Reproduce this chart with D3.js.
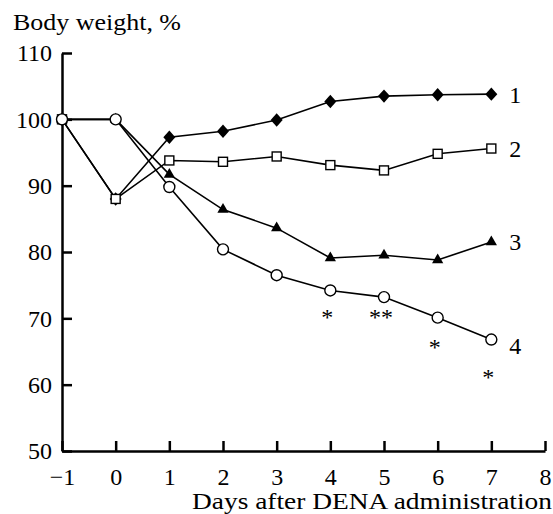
<!DOCTYPE html>
<html>
<head>
<meta charset="UTF-8" />
<title>body weight</title>
<script src="https://d3js.org/d3.v7.min.js"></script>
<style type="text/css">
	body {margin: 0; background: #fff;}
	text {font-family: "Liberation Serif", "Times New Roman", serif; fill: #000;}
	.axis path, .axis line {stroke: #000; stroke-width: 2.5px;}
	.axis text {font-size: 24px;}
	.line {fill: none; stroke: #000; stroke-width: 1.6px;}
</style>
</head>
<body>
<svg id="chart"></svg>
<script type="text/javascript">
// data
var days = [-1, 0, 1, 2, 3, 4, 5, 6, 7]
var series1 = [100, 88, 97.3, 98.2, 99.9, 102.7, 103.5, 103.7, 103.8]
var series2 = [100, 88, 93.8, 93.6, 94.4, 93.1, 92.3, 94.8, 95.6]
var series3 = [100, 100, 91.7, 86.4, 83.6, 79.1, 79.5, 78.8, 81.5]
var series4 = [100, 100, 89.8, 80.4, 76.5, 74.2, 73.2, 70.1, 66.8]
var seriesNames = ["1", "2", "3", "4"]
var xTicks = [-1, 0, 1, 2, 3, 4, 5, 6, 7, 8]
var yTicks = [50, 60, 70, 80, 90, 100, 110]
// significance marks under series 4
var starDays = [4, 5, 6, 7]
var starMarks = ["*", "**", "*", "*"]
var starValues = [70.5, 70.5, 66, 61.5]

var w = 553, h = 514

var svg = d3.select("#chart").attr("width", w).attr("height", h)

var x = d3.scaleLinear().domain([-1, 8]).range([62, 545])
var y = d3.scaleLinear().domain([50, 110]).range([451, 53])

// axes, ticks point inwards
svg.append("g")
	.attr("class", "axis")
	.attr("transform", "translate(0,451)")
	.call(d3.axisBottom(x).tickValues(xTicks).tickSize(-10).tickSizeOuter(0).tickPadding(17))
svg.append("g")
	.attr("class", "axis")
	.attr("transform", "translate(62,0)")
	.call(d3.axisLeft(y).tickValues(yTicks).tickSize(-10).tickSizeOuter(0).tickPadding(10))

var line = d3.line().x(d => x(d[0])).y(d => y(d[1]))
var pts = vals => days.map((d, i) => [d, vals[i]])

var all = [series1, series2, series3, series4]
all.forEach(vals => {
	svg.append("path").attr("class", "line").attr("d", line(pts(vals)))
})

// markers: draw order 1, 3, 2, 4 so open ones sit on top
var diamond = d3.symbol().type(d3.symbolSquare).size(72)
var triangle = d3.symbol().type(d3.symbolTriangle).size(55)

svg.append("g").selectAll("path").data(pts(series1)).enter().append("path")
	.attr("d", diamond)
	.attr("transform", d => "translate(" + x(d[0]) + "," + y(d[1]) + ") scale(1,1.12) rotate(45)")
	.attr("fill", "#000")

svg.append("g").selectAll("path").data(pts(series3)).enter().append("path")
	.attr("d", triangle)
	.attr("transform", d => "translate(" + x(d[0]) + "," + y(d[1]) + ")")
	.attr("fill", "#000")

svg.append("g").selectAll("rect").data(pts(series2)).enter().append("rect")
	.attr("x", d => x(d[0]) - 4.5)
	.attr("y", d => y(d[1]) - 4.5)
	.attr("width", 9)
	.attr("height", 9)
	.attr("fill", "#fff")
	.attr("stroke", "#000")
	.attr("stroke-width", 1.4)

svg.append("g").selectAll("circle").data(pts(series4)).enter().append("circle")
	.attr("cx", d => x(d[0]))
	.attr("cy", d => y(d[1]))
	.attr("r", 5.5)
	.attr("fill", "#fff")
	.attr("stroke", "#000")
	.attr("stroke-width", 1.4)

// series numbers at the right end
svg.append("g").selectAll("text").data(all).enter().append("text")
	.attr("x", x(7) + 24)
	.attr("y", (d, i) => y(d[d.length - 1]) + (i == 3 ? 6 : 0))
	.attr("dy", "0.35em")
	.attr("text-anchor", "middle")
	.style("font-size", "24px")
	.text((d, i) => seriesNames[i])

// asterisks
svg.append("g").selectAll("text").data(starDays).enter().append("text")
	.attr("x", d => x(d) - 3)
	.attr("y", (d, i) => y(starValues[i]) + 10)
	.attr("text-anchor", "middle")
	.style("font-size", "24px")
	.text((d, i) => starMarks[i])

// axis titles
svg.append("text")
	.attr("x", 13)
	.attr("y", 30)
	.attr("textLength", 168)
	.attr("lengthAdjust", "spacingAndGlyphs")
	.style("font-size", "24px")
	.text("Body weight, %")

svg.append("text")
	.attr("x", 192)
	.attr("y", 509)
	.attr("textLength", 360)
	.attr("lengthAdjust", "spacingAndGlyphs")
	.style("font-size", "23px")
	.text("Days after DENA administration")
</script>
</body>
</html>
